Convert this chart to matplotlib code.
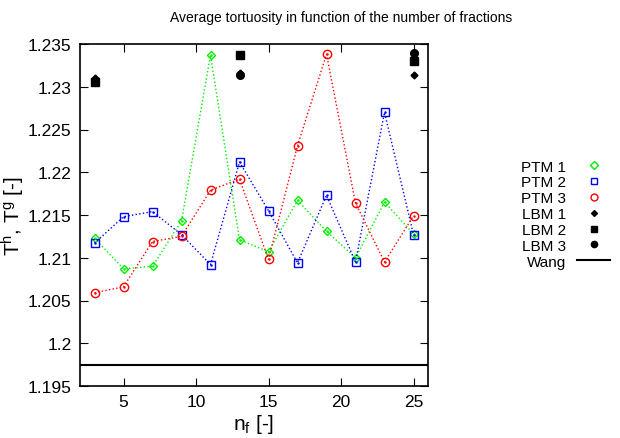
import matplotlib
matplotlib.use('Agg')
import matplotlib.pyplot as plt
from matplotlib.lines import Line2D

plt.rcParams['font.family'] = ['Liberation Sans', 'DejaVu Sans']
plt.rcParams['mathtext.default'] = 'regular'

# number of fractions
n_f = [3, 5, 7, 9, 11, 13, 15, 17, 19, 21, 23, 25]

ptm1 = [1.2123, 1.2087, 1.2090, 1.2143, 1.2337, 1.2121, 1.2107, 1.2167, 1.2131, 1.2100, 1.2165, 1.2128]
ptm2 = [1.2117, 1.2148, 1.2154, 1.2127, 1.2092, 1.2212, 1.2155, 1.2094, 1.2173, 1.2095, 1.2270, 1.2127]
ptm3 = [1.2059, 1.2066, 1.2119, 1.2125, 1.2179, 1.2192, 1.2098, 1.2231, 1.2338, 1.2164, 1.2095, 1.2149]

# LBM results
n_lbm = [3, 13, 25]
lbm1 = [1.2310, 1.2316, 1.2314]
lbm2 = [1.2305, 1.2337, 1.2330]
lbm3 = [1.2307, 1.2314, 1.2340]

wang = 1.1975

green, blue, red = '#00ee00', '#0000ff', '#ff0000'

fig = plt.figure(figsize=(6.2, 4.39), dpi=100)
ax = fig.add_axes([80/620, 1 - 387/439, 348/620, 342/439])

ax.plot(n_f, ptm1, ':', color=green, lw=1, marker='D', ms=4.5, mfc='none', mew=1)
ax.plot(n_f, ptm2, ':', color=blue, lw=1, marker='s', ms=6, mfc='none', mew=1)
ax.plot(n_f, ptm3, ':', color=red, lw=1, marker='o', ms=6, mfc='none', mew=1)
# center dots of the open markers
for ys, c in [(ptm1, green), (ptm2, blue), (ptm3, red)]:
    ax.plot(n_f, ys, ls='none', marker='.', ms=1.5, color=c)

ax.plot(n_lbm, lbm1, ls='none', marker='D', ms=3.5, color='black')
ax.plot(n_lbm, lbm2, ls='none', marker='s', ms=5.5, color='black')
ax.plot(n_lbm, lbm3, ls='none', marker='o', ms=5.5, color='black')
ax.axhline(wang, color='black', lw=1.5)

ax.set_xlim(2, 26)
ax.set_ylim(1.195, 1.235)
ax.set_xticks([5, 10, 15, 20, 25])
ax.set_yticks([1.195, 1.2, 1.205, 1.21, 1.215, 1.22, 1.225, 1.23, 1.235])
ax.set_yticklabels(['1.195', '1.2', '1.205', '1.21', '1.215', '1.22', '1.225', '1.23', '1.235'])
ax.tick_params(direction='in', top=True, right=True, length=6, labelsize=12.5, pad=6)
for s in ax.spines.values():
    s.set_linewidth(1.2)

ax.set_xlabel('n$_f$ [-]', fontsize=15, labelpad=2)
ax.set_ylabel('T$^h$, T$^g$ [-]', fontsize=15)
ax.yaxis.set_label_coords(-(80 - 27) / 348, 0.5)
fig.text(341/620, 1 - 18/439, 'Average tortuosity in function of the number of fractions',
         ha='center', va='center', fontsize=10)

handles = [
    Line2D([], [], ls='none', marker='D', ms=4, mfc='none', mew=1, color=green),
    Line2D([], [], ls='none', marker='s', ms=5, mfc='none', mew=1, color=blue),
    Line2D([], [], ls='none', marker='o', ms=5, mfc='none', mew=1, color=red),
    Line2D([], [], ls='none', marker='D', ms=3, color='black'),
    Line2D([], [], ls='none', marker='s', ms=4.5, color='black'),
    Line2D([], [], ls='none', marker='o', ms=4.5, color='black'),
    Line2D([], [], color='black', lw=1.5),
]
labels = ['PTM 1', 'PTM 2', 'PTM 3', 'LBM 1', 'LBM 2', 'LBM 3', 'Wang']
ax.legend(handles, labels, loc='upper left', bbox_to_anchor=(1.25, 0.68), frameon=False,
          markerfirst=False, fontsize=11, handlelength=2.2, labelspacing=0.12,
          handletextpad=0.7, borderaxespad=0)

fig.savefig('out.png', dpi=100)
